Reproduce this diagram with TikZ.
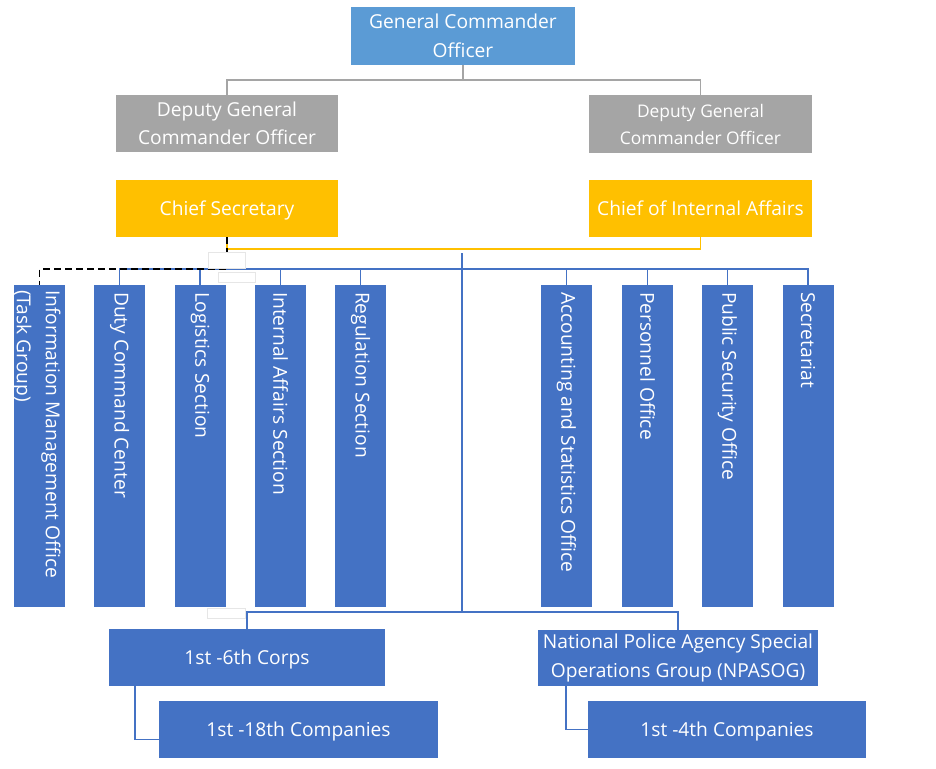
\documentclass[tikz,border=0pt]{standalone}
\usepackage{fontspec}
\setmainfont{Open Sans}
\definecolor{gcoBlue}{HTML}{5B9BD5}
\definecolor{grayC}{HTML}{A5A5A5}
\definecolor{goldC}{HTML}{FFC000}
\definecolor{blueC}{HTML}{4472C4}
\definecolor{ghostC}{HTML}{E6E6E6}
\begin{document}
\begin{tikzpicture}[x=1pt,y=-1pt,
  box/.style={draw=none,text=white,inner sep=0pt,align=center,
    font=\fontsize{19.2}{28.5}\selectfont},
  oneline/.style={text depth=0pt},
  vbox/.style={fill=blueC,draw=none,minimum width=51pt,minimum height=322pt,inner sep=0pt},
  vtext/.style={text=white,inner sep=0pt,rotate=-90,anchor=west,align=left,
    font=\fontsize{19.2}{29}\selectfont},
  grayline/.style={draw=grayC,line width=1.8pt},
  goldline/.style={draw=goldC,line width=1.7pt},
  blueline/.style={draw=blueC,line width=1.7pt},
  dashline/.style={draw=black,line width=1.6pt,dash pattern=on 7pt off 4pt},
  ghost/.style={draw=ghostC,fill=white,line width=1pt},
]
\useasboundingbox (0,0) rectangle (936,768);
\fill[white] (0,0) rectangle (936,768);

% top levels
\node[box,fill=gcoBlue,minimum width=224pt,minimum height=58pt] (gco) at (463,36) {General Commander\\Officer};
\node[box,fill=grayC,minimum width=222pt,minimum height=57pt] (dep1) at (227,123.5) {Deputy General\\Commander Officer};
\node[box,fill=grayC,minimum width=223pt,minimum height=58pt,font=\fontsize{17.4}{27}\selectfont] (dep2) at (700.5,124) {Deputy General\\Commander Officer};
\node[box,oneline,fill=goldC,minimum width=222pt,minimum height=57pt] (cs) at (227,208.5) {Chief Secretary};
\node[box,oneline,fill=goldC,minimum width=223pt,minimum height=57pt] (cia) at (700.5,208.5) {Chief of Internal Affairs};

% vertical boxes
\node[vbox] (info) at (39.5,446) {};
\node[vbox] (duty) at (119.5,446) {};
\node[vbox] (log)  at (200,446) {};
\node[vbox] (int)  at (280.5,446) {};
\node[vbox] (reg)  at (360.5,446) {};
\node[vbox] (acc)  at (566.5,446) {};
\node[vbox] (pers) at (647.5,446) {};
\node[vbox] (pub)  at (727.5,446) {};
\node[vbox] (sec)  at (808,446) {};

\node[vtext] (infoT) at ([xshift=-3pt,yshift=-5pt]info.north) {Information Management Office\\(Task Group)};
\node[vtext] (dutyT) at ([yshift=-7pt]duty.north) {Duty Command Center};
\node[vtext] (logT)  at ([yshift=-7pt]log.north) {Logistics Section};
\node[vtext] (intT)  at ([yshift=-7pt]int.north) {Internal Affairs Section};
\node[vtext] (regT)  at ([yshift=-7pt]reg.north) {Regulation Section};
\node[vtext] (accT)  at ([yshift=-7pt]acc.north) {Accounting and Statistics Office};
\node[vtext] (persT) at ([yshift=-7pt]pers.north) {Personnel Office};
\node[vtext] (pubT)  at ([yshift=-7pt]pub.north) {Public Security Office};
\node[vtext] (secT)  at ([yshift=-7pt]sec.north) {Secretariat};

% bottom boxes
\node[box,oneline,fill=blueC,minimum width=276pt,minimum height=57pt] (corps) at (247,657.5) {1st -6th Corps};
\node[box,fill=blueC,minimum width=280pt,minimum height=56pt] (npasog) at (678,658) {National Police Agency Special\\Operations Group (NPASOG)};
\node[box,oneline,fill=blueC,minimum width=279pt,minimum height=57pt] (comp18) at (298.5,729.5) {1st -18th Companies};
\node[box,oneline,fill=blueC,minimum width=278pt,minimum height=57pt] (comp4) at (727,729.5) {1st -4th Companies};

% coordinates
\coordinate (top) at (462,253);
\coordinate (bar) at (462,269);
\coordinate (bb) at (462,612);

% gray connectors
\draw[grayline] (gco.south) -- ++(0,15) -| (dep1.north);
\draw[grayline] (gco.south) -- ++(0,15) -| (dep2.north);

% gold connector
\draw[goldline] (cs.south) -- ++(0,12) -| (cia.south);

% blue connectors
\draw[blueline] (top) -- (bb);
\draw[blueline] (duty.north) |- (bar) -| (sec.north);
\foreach \n in {log,int,reg,acc,pers,pub} \draw[blueline] (\n.north) -- (\n.north |- bar);
\draw[blueline] (corps.north) |- (bb) -| (npasog.north);
\draw[blueline] ([xshift=-112pt]corps.south) |- ([yshift=-10pt]comp18.west);
\draw[blueline] ([xshift=-112pt]npasog.south) |- (comp4.west);

% dashed connector
\draw[dashline] (cs.south) -- (cs.south |- bar) -| (info.north);

% faint ghost boxes
\draw[ghost] (208,252) rectangle (245,268);
\draw[ghost] (218,272) rectangle (255,282);
\draw[ghost] (207,608) rectangle (245,618);
\end{tikzpicture}
\end{document}
